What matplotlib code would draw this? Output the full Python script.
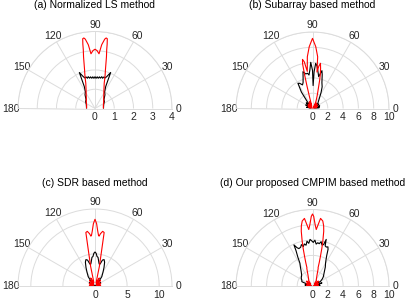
import numpy as np
import matplotlib
matplotlib.use('Agg')
import matplotlib.pyplot as plt

plt.rcParams['font.family'] = ['Liberation Sans', 'DejaVu Sans']

# ---------------- data (angles in degrees, radii) ----------------
titles = ['(a) Normalized LS method', '(b) Subarray based method',
          '(c) SDR based method', '(d) Our proposed CMPIM based method']
theta_ticks = [0, 30, 60, 90, 120, 150, 180]

# (a)
a_red_theta = [0, 20, 35, 50, 60, 65, 70, 72.6, 75, 76.4, 77.5, 78.7, 79.3, 80, 81, 82, 84, 85.8, 88, 90,
               92, 94.2, 96, 98, 99, 100, 100.7, 101.3, 102.5, 103.6, 105, 107.4, 110, 115, 120, 130, 145, 160, 180]
a_red_r = [0.44, 0.46, 0.55, 0.70, 0.92, 1.10, 1.40, 1.74, 2.10, 2.42, 2.75, 3.10, 3.40, 3.68, 3.71, 3.64, 3.33, 2.85, 3.01, 3.08,
           3.01, 2.85, 3.33, 3.64, 3.71, 3.68, 3.40, 3.10, 2.75, 2.42, 2.10, 1.74, 1.40, 1.10, 0.92, 0.70, 0.55, 0.46, 0.44]
a_blk_theta = [0, 10, 25, 37, 45, 54, 60, 64, 66.5, 70, 72, 74, 76, 78, 80, 82, 84, 86, 88, 90,
               92, 94, 96, 98, 100, 102, 104, 106, 108, 110, 113.5, 116, 120, 126, 135, 143, 155, 170, 180]
a_blk_r = [0.44, 0.45, 0.50, 0.61, 0.66, 0.88, 1.00, 1.27, 2.04, 1.75, 1.66, 1.71, 1.62, 1.69, 1.60, 1.66, 1.58, 1.65, 1.57, 1.65,
           1.57, 1.65, 1.58, 1.66, 1.60, 1.69, 1.62, 1.71, 1.66, 1.75, 2.04, 1.27, 1.00, 0.88, 0.66, 0.61, 0.50, 0.45, 0.44]

# (b)
b_red_theta = [0, 8, 15, 22, 30, 38, 45, 52, 58, 63, 66, 70, 72, 75.8, 77, 78.5, 80, 81.5, 83, 84.3, 87, 90,
               93, 95.7, 98, 100, 101.5, 102.5, 103.2, 103.8, 104.5, 106, 110, 115, 120, 128, 135, 142, 150, 158, 165, 172, 180]
b_red_r = [0.1, 0.5, 0.1, 0.7, 0.1, 0.8, 0.2, 0.9, 0.3, 0.9, 1.2, 1.8, 2.2, 3.8, 4.5, 5.3, 6.0, 5.6, 4.8, 6.8, 8.1, 9.17,
           8.1, 6.8, 4.9, 6.2, 6.55, 6.0, 4.5, 3.0, 1.5, 0.4, 1.0, 0.2, 0.9, 0.2, 0.8, 0.1, 0.7, 0.1, 0.5, 0.1, 0.1]
b_blk_theta = [0, 6, 12, 20, 28, 35, 40, 45, 52, 58, 62, 66, 70, 74, 76, 78, 79, 82, 84, 86,
               87.5, 88.5, 90, 92.2, 94, 96, 98, 101, 104.5, 107, 110, 113, 117, 120, 124, 128, 132, 138, 145, 152,
               160, 168, 175, 180]
b_blk_r = [0.3, 0.9, 0.2, 1.0, 0.3, 1.0, 0.6, 1.0, 1.3, 1.8, 2.4, 3.1, 3.6, 4.6, 5.1, 4.5, 4.23, 5.0, 5.6, 5.92,
           4.8, 3.0, 5.0, 6.04, 5.0, 4.4, 4.65, 4.6, 4.97, 4.2, 3.6, 3.35, 3.7, 3.8, 2.6, 1.0, 0.3, 1.1, 0.3, 1.0,
           0.3, 0.8, 0.2, 0.3]

# (c)
c_red_theta = [0, 8, 16, 25, 35, 45, 55, 62, 68, 72, 75, 77.4, 79.5, 80.3, 82, 84, 85.3, 86, 87.2, 88.5,
               90, 91.5, 92.8, 94, 94.7, 96, 98, 99.7, 100.5, 102.6, 105, 108, 112, 118, 125, 135, 145, 155, 164, 172, 180]
c_red_r = [0.2, 0.9, 0.2, 1.0, 0.3, 1.2, 0.4, 1.4, 0.5, 0.6, 1.0, 3.1, 5.8, 8.46, 8.6, 8.2, 7.8, 7.9, 8.6, 9.7,
           10.4, 9.7, 8.6, 7.9, 7.8, 8.2, 8.6, 8.46, 5.8, 3.1, 1.0, 0.6, 0.5, 1.4, 0.4, 1.2, 0.3, 1.0, 0.2, 0.9, 0.2]
c_blk_theta = [0, 10, 20, 30, 40, 48, 54, 60, 64, 68, 71, 74, 76, 78, 80, 82, 84, 86, 88, 90,
               92, 94, 96, 98, 100, 102, 104, 106, 109, 112, 116, 120, 126, 132, 140, 150, 160, 170, 180]
c_blk_r = [0.1, 0.8, 0.2, 1.0, 0.2, 0.8, 1.8, 2.5, 3.2, 4.0, 4.35, 4.2, 3.7, 3.4, 3.6, 4.0, 4.5, 4.6, 5.1, 5.3,
           5.1, 4.6, 4.5, 4.0, 3.6, 3.4, 3.7, 4.2, 4.35, 4.0, 3.2, 2.5, 1.8, 0.8, 0.2, 1.0, 0.2, 0.8, 0.1]

# (d)
d_red_theta = [0, 8, 16, 24, 32, 40, 48, 55, 60, 68, 72, 73, 74, 75, 76, 77, 78.4, 79.5, 81, 83.2, 86.2, 87.5, 89,
               90, 91, 92.5, 93.8, 96.8, 99, 100.5, 101.6, 103, 104, 105, 106, 107, 108, 112, 120, 125, 132, 140,
               148, 156, 164, 172, 180]
d_red_r = [0.2, 0.8, 0.2, 0.9, 0.3, 1.0, 0.4, 0.9, 1.0, 1.6, 2.4, 2.5, 3.2, 4.0, 5.0, 6.0, 7.3, 8.0, 8.6, 8.9, 7.4, 8.0, 9.1,
           9.41, 9.1, 8.0, 7.4, 8.9, 8.6, 8.0, 7.3, 6.0, 5.0, 4.0, 3.2, 2.5, 2.4, 1.6, 1.0, 0.9, 0.4, 1.0,
           0.3, 0.9, 0.2, 0.8, 0.2]
d_blk_theta = [0, 6, 12, 18, 24, 30, 36, 40.7, 50, 56, 60, 62.6, 65, 67, 68.5, 70.5, 72.5, 73.6, 75, 77,
               79, 81, 83, 85, 87, 89, 91, 93, 95, 97, 99, 101, 103, 105, 107, 110, 112, 114.3, 115, 117,
               118.9, 122, 128, 135, 145, 151, 158, 165, 172, 180]
d_blk_r = [0.2, 1.0, 0.3, 1.3, 0.4, 1.2, 1.6, 1.87, 2.4, 3.0, 3.4, 3.83, 4.4, 5.2, 5.5, 5.4, 5.5, 6.35, 5.6, 5.5,
           5.9, 5.6, 5.7, 5.5, 6.0, 5.7, 5.9, 6.1, 5.6, 5.9, 5.4, 5.6, 5.3, 5.6, 5.3, 5.2, 5.4, 5.9, 5.1, 4.2,
           3.4, 3.0, 2.4, 2.0, 1.8, 1.6, 1.5, 0.4, 1.0, 0.2]

# ---------------- figure ----------------
W, H = 405, 300
fig = plt.figure(figsize=(W / 100, H / 100), dpi=100)
GRID = '#dcdcdc'
TXT = '#262626'


def panel(cx, cy, R, rmax, rings, rlabels, title, title_y, blk, red):
    # square axes box; the half disc sits with its centre R/2 above the box bottom
    ax = fig.add_axes([(cx - R) / W, (H - cy - R / 2) / H, 2 * R / W, 2 * R / H], projection='polar')
    ax.set_thetamin(0)
    ax.set_thetamax(180)
    ax.set_rlim(0, rmax)
    ax.set_rticks(rings)
    ax.set_yticklabels([])
    ax.set_thetagrids(theta_ticks, [str(t) for t in theta_ticks])
    ax.tick_params(axis='x', labelsize=7.5, colors=TXT, pad=-5.5)
    ax.grid(True, color=GRID, lw=0.7)
    for s in ax.spines.values():
        s.set_color(GRID)
        s.set_linewidth(0.7)
    ax.plot(np.deg2rad(blk[0]), blk[1], color='black', lw=0.8)
    ax.plot(np.deg2rad(red[0]), red[1], color='red', lw=0.8)
    for rv in rlabels:
        ax.annotate(str(rv), xy=(0, rv), xycoords='data', xytext=(0, -9), textcoords='offset pixels',
                    ha='center', va='center', fontsize=7.5, color=TXT, annotation_clip=False)
    fig.text(cx / W, 1 - title_y / H, title, ha='center', va='baseline', fontsize=7.5, color='black')
    return ax


panel(95, 108.5, 77, 4, [1, 2, 3, 4], [0, 1, 2, 3, 4], titles[0], 8.5,
      (a_blk_theta, a_blk_r), (a_red_theta, a_red_r))
panel(312.5, 108.5, 76.5, 10, [2, 4, 6, 8, 10], [0, 2, 4, 6, 8, 10], titles[1], 8.5,
      (b_blk_theta, b_blk_r), (b_red_theta, b_red_r))
panel(95, 286, 77, 12, [5, 10], [0, 5, 10], titles[2], 185.5,
      (c_blk_theta, c_blk_r), (c_red_theta, c_red_r))
panel(312.5, 286, 76.5, 10, [2, 4, 6, 8, 10], [0, 2, 4, 6, 8, 10], titles[3], 185.5,
      (d_blk_theta, d_blk_r), (d_red_theta, d_red_r))

fig.savefig('out.png', dpi=100)
